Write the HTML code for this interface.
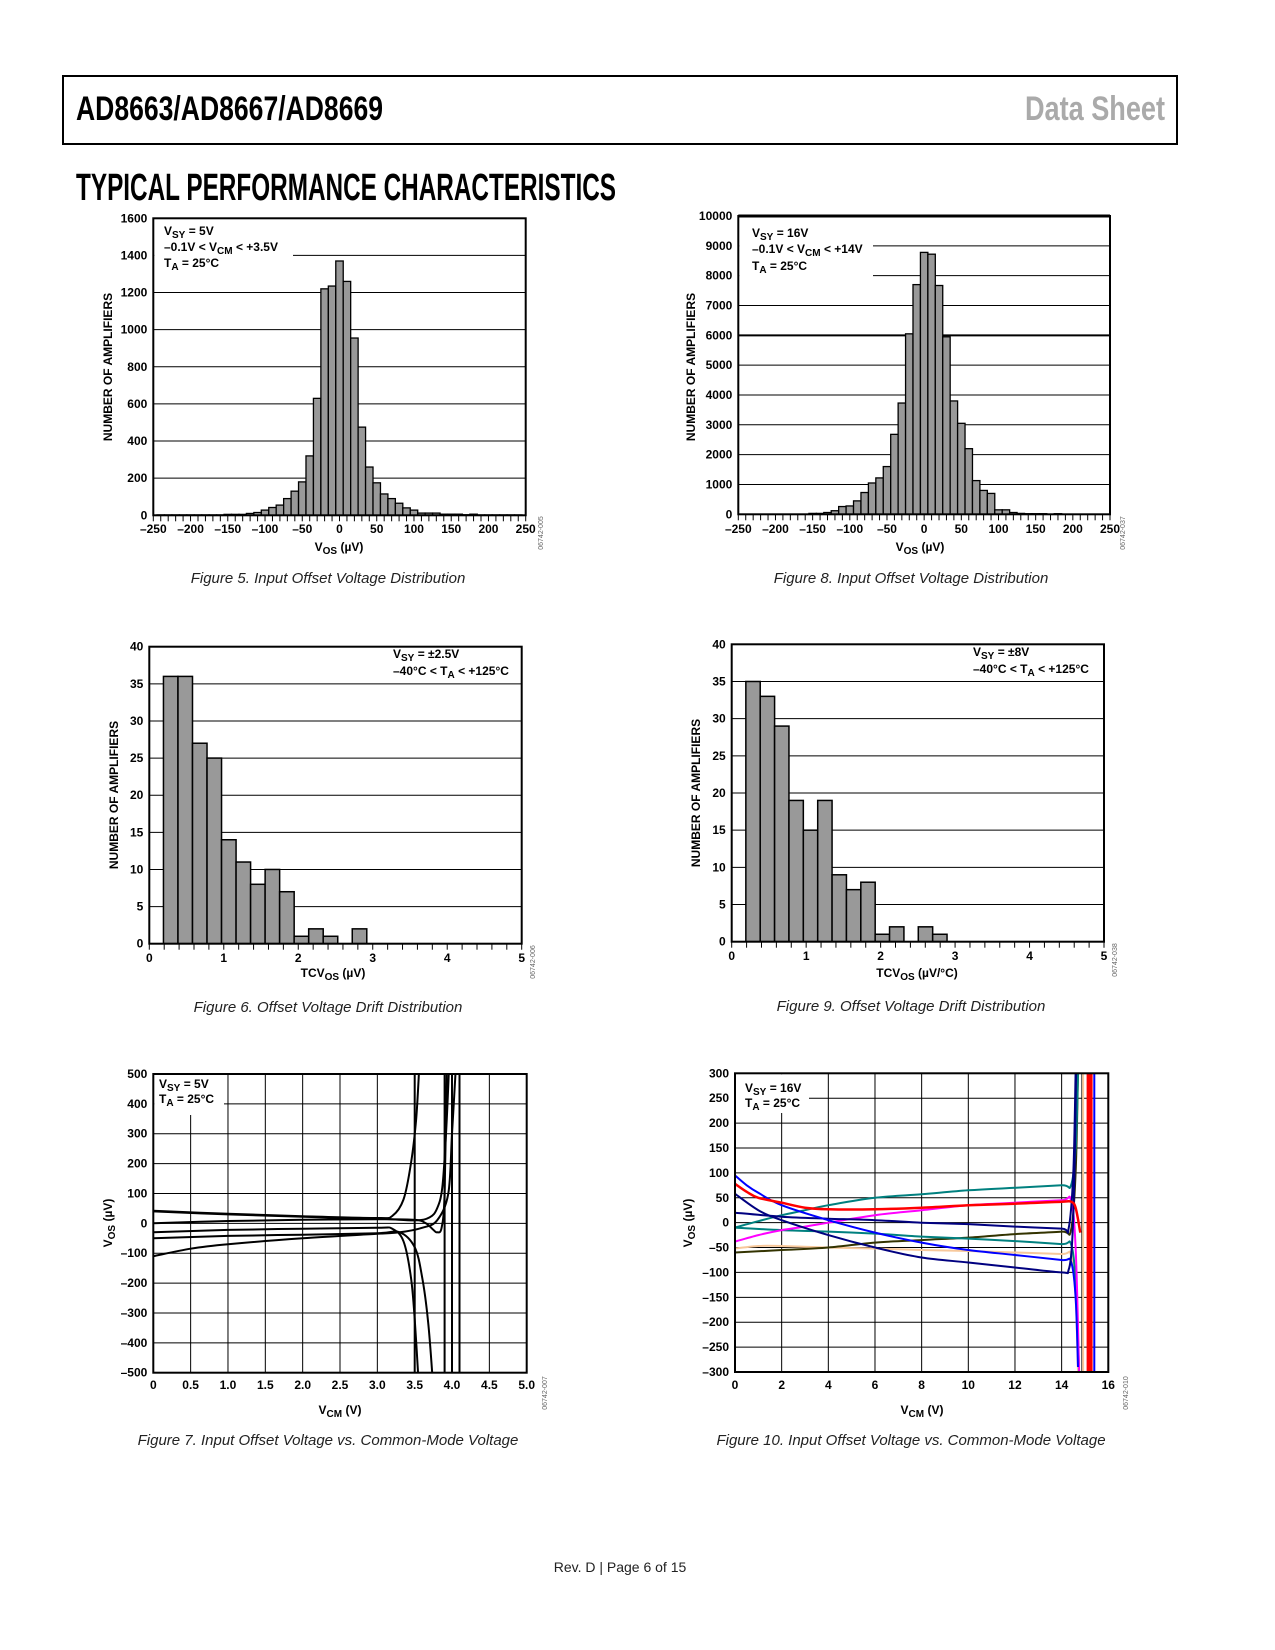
<!DOCTYPE html>
<html><head><meta charset="utf-8">
<style>
html,body{margin:0;padding:0;background:#fff;}
svg{display:block;font-family:"Liberation Sans",sans-serif;}
.tk{font-size:12px;font-weight:bold;fill:#000;}
.ttl{font-size:12px;font-weight:bold;fill:#000;}
.ann{font-size:12px;font-weight:bold;fill:#000;}
.cap{font-size:15px;font-style:italic;fill:#222;}
.id{font-size:7px;fill:#666;}
</style></head>
<body>
<svg id="page" width="1275" height="1650" viewBox="0 0 1275 1650">
<rect x="0" y="0" width="1275" height="1650" fill="#fff"/>
<rect x="63" y="76" width="1114" height="68" fill="none" stroke="#000" stroke-width="2"/>
<text x="76" y="120" font-size="34" font-weight="bold" textLength="307" lengthAdjust="spacingAndGlyphs" font-family="'Liberation Sans Narrow','Liberation Sans',sans-serif">AD8663/AD8667/AD8669</text>
<text x="1165" y="120" font-size="34" font-weight="bold" fill="#aaa" text-anchor="end" textLength="140" lengthAdjust="spacingAndGlyphs" font-family="'Liberation Sans Narrow','Liberation Sans',sans-serif">Data Sheet</text>
<text x="76" y="200" font-size="38" font-weight="bold" textLength="540" lengthAdjust="spacingAndGlyphs" font-family="'Liberation Sans Narrow','Liberation Sans',sans-serif">TYPICAL PERFORMANCE CHARACTERISTICS</text>

<text class="cap" x="328" y="583" text-anchor="middle">Figure 5. Input Offset Voltage Distribution</text>
<text class="cap" x="911" y="583" text-anchor="middle">Figure 8. Input Offset Voltage Distribution</text>
<text class="cap" x="328" y="1012" text-anchor="middle">Figure 6. Offset Voltage Drift Distribution</text>
<text class="cap" x="911" y="1011" text-anchor="middle">Figure 9. Offset Voltage Drift Distribution</text>
<text class="cap" x="328" y="1445" text-anchor="middle">Figure 7. Input Offset Voltage vs. Common-Mode Voltage</text>
<text class="cap" x="911" y="1445" text-anchor="middle">Figure 10. Input Offset Voltage vs. Common-Mode Voltage</text>
<text x="620" y="1572" font-size="14" text-anchor="middle" fill="#222">Rev. D | Page 6 of 15</text>
<g id="charts"></g>
</svg>
<script>
// ---------- Figure 5 data ----------
const f5Centers = [-240,-230,-220,-210,-200,-190,-180,-170,-160,-150,-140,-130,-120,-110,-100,-90,-80,-70,-60,-50,-40,-30,-20,-10,0,10,20,30,40,50,60,70,80,90,100,110,120,130,140,150,160,170,180,190,200,210,220,230,240];
const f5Counts = [2,2,2,2,2,2,2,2,2,5,5,5,10,15,28,42,55,90,130,180,320,630,1220,1235,1370,1260,955,475,260,175,115,90,65,40,28,12,12,12,6,6,6,3,6,2,2,2,2,2,2];
const f5YTicks = [0,200,400,600,800,1000,1200,1400,1600];
const f5XTicks = [-250,-200,-150,-100,-50,0,50,100,150,200,250];
// ---------- Figure 8 data ----------
const f8Centers = [-240,-230,-220,-210,-200,-190,-180,-170,-160,-150,-140,-130,-120,-110,-100,-90,-80,-70,-60,-50,-40,-30,-20,-10,0,10,20,30,40,50,60,70,80,90,100,110,120,130,140,150,160,170,180,190,200,210,220,230,240];
const f8Counts = [0,0,0,0,0,0,0,0,0,30,30,60,120,260,280,450,730,1050,1220,1600,2680,3730,6050,7700,8780,8720,7670,5950,3800,3050,2200,1130,800,700,150,150,60,30,20,20,20,5,20,0,0,0,0,0,0];
const f8YTicks = [0,1000,2000,3000,4000,5000,6000,7000,8000,9000,10000];
const f8XTicks = [-250,-200,-150,-100,-50,0,50,100,150,200,250];
// ---------- Figure 6 data ----------
const f6BinStart = [0.19,0.385,0.58,0.775,0.97,1.165,1.36,1.555,1.75,1.945,2.14,2.335,2.53,2.725];
const f6Counts = [36,36,27,25,14,11,8,10,7,1,2,1,0,2];
const f6YTicks = [0,5,10,15,20,25,30,35,40];
const f6XTicks = [0,1,2,3,4,5];
// ---------- Figure 9 data ----------
const f9BinStart = [0.19,0.383,0.576,0.769,0.962,1.155,1.348,1.541,1.734,1.927,2.12,2.313,2.506,2.699];
const f9Counts = [35,33,29,19,15,19,9,7,8,1,2,0,2,1];
const f9YTicks = [0,5,10,15,20,25,30,35,40];
const f9XTicks = [0,1,2,3,4,5];
// ---------- Figure 7 data ----------
const f7XTicks = [0,0.5,1.0,1.5,2.0,2.5,3.0,3.5,4.0,4.5,5.0];
const f7YTicks = [-500,-400,-300,-200,-100,0,100,200,300,400,500];
const f7A_x = [0,1,2,3.0,3.2,3.35,3.45,3.52,3.56];
const f7A_y = [42,32,24,18,25,80,200,350,520];
const f7B_x = [0,1,2,3,3.5,3.7,3.8,3.87,3.92,3.96];
const f7B_y = [40,30,22,16,10,20,50,120,300,520];
const f7C_x = [0,1,2,3,3.5,3.65,3.75,3.8,3.86,3.9,3.93];
const f7C_y = [0,8,12,14,12,0,-22,-30,-15,100,520];
const f7D_x = [0,1,2,3,3.2,3.35,3.45,3.5,3.55];
const f7D_y = [-30,-22,-18,-15,-18,-60,-180,-320,-520];
const f7E_x = [0,1,2,3,3.3,3.5,3.6,3.68,3.74];
const f7E_y = [-50,-42,-38,-33,-30,-80,-180,-330,-520];
const f7F_x = [0,0.5,1,2,3,3.3,3.6,3.8,3.95,4.0,4.05];
const f7F_y = [-110,-85,-70,-50,-35,-30,-15,10,100,300,520];
const f7V1_x = [3.5,3.5]; const f7V1_y = [-500,500];
const f7V2_x = [3.9,3.9]; const f7V2_y = [-500,500];
const f7V3_x = [4.0,4.0]; const f7V3_y = [-500,500];
const f7V4_x = [4.1,4.1]; const f7V4_y = [-500,500];
// ---------- Figure 10 data ----------
const f10XTicks = [0,2,4,6,8,10,12,14,16];
const f10YTicks = [-300,-250,-200,-150,-100,-50,0,50,100,150,200,250,300];
const f10Teal1_x = [0,1,2,3,4,6,8,10,12,14,14.4,14.6,14.7];
const f10Teal1_y = [-10,3,15,25,35,50,57,65,70,75,75,150,300];
const f10Teal2_x = [0,2,4,6,8,10,12,14,14.4,14.6,14.75];
const f10Teal2_y = [-10,-15,-18,-22,-28,-32,-37,-43,-43,-120,-300];
const f10Magenta_x = [0,1,2,3,4,6,8,10,12,14,14.4,14.6,14.75];
const f10Magenta_y = [-38,-25,-15,-8,0,15,25,35,40,45,45,-50,-300];
const f10Red_x = [0,0.5,1,2,3,4,6,8,10,12,14,14.4,14.6,14.8];
const f10Red_y = [78,62,50,40,30,27,27,30,35,38,42,42,30,-20];
const f10Blue_x = [0,0.5,1,2,4,6,8,10,12,14,14.4,14.6,14.7];
const f10Blue_y = [95,75,60,35,5,-20,-40,-55,-65,-75,-78,-150,-290];
const f10Navy1_x = [0,2,4,6,8,10,12,14,14.3,14.5,14.6];
const f10Navy1_y = [20,12,8,5,0,-3,-8,-12,-12,100,300];
const f10Navy2_x = [0,1,2,4,6,8,10,12,14,14.3,14.45,14.55,14.62];
const f10Navy2_y = [58,25,5,-25,-50,-70,-80,-90,-100,-95,-40,100,300];
const f10Olive_x = [0,2,4,6,8,10,12,14,14.4,14.6,14.7];
const f10Olive_y = [-60,-55,-50,-40,-35,-30,-23,-18,-15,100,300];
const f10Peach_x = [0,1,2,4,6,8,10,12,14,14.4,14.6,14.7];
const f10Peach_y = [-52,-47,-47,-50,-52,-55,-57,-60,-63,-65,-150,-300];
const f10VRed_x = [15.2,15.2]; const f10VRed_y = [-300,300];
const f10VBlue_x = [15.4,15.4]; const f10VBlue_y = [-300,300];
const f10VPeach_x = [14.92,14.92]; const f10VPeach_y = [-300,300];
const f10VBlack_x = [14.87,14.87]; const f10VBlack_y = [-300,300];

const NS = 'http://www.w3.org/2000/svg';
const root = document.getElementById('charts');
function mk(tag, attrs, parent){ const e=document.createElementNS(NS,tag); for(const k in attrs) e.setAttribute(k,attrs[k]); (parent||root).appendChild(e); return e; }
function fmt(v){ return (v<0?'\u2013':'')+Math.abs(v); }
function fmtF(v){ return v===0 ? '0' : (v<0?'\u2013':'')+Math.abs(v).toFixed(1); }

function makeAxes(P){
  P.sx = v => P.l + (v-P.x0)/(P.x1-P.x0)*(P.r-P.l);
  P.sy = v => P.b - (v-P.y0)/(P.y1-P.y0)*(P.b-P.t);
  return P;
}
function frame(P, g){
  const r = mk('rect',{x:P.l,y:P.t,width:P.r-P.l,height:P.b-P.t,fill:'none',stroke:'#000','stroke-width':2},g);
  
  
}
function yTickLabels(P, ticks, g, f){
  ticks.forEach(v=>{
    const t = mk('text',{x:P.l-6,y:P.sy(v)+4,'text-anchor':'end',class:'tk'},g);
    t.textContent = (f||fmt)(v);
    
    
  });
}
function xTickLabels(P, ticks, g, y, f){
  ticks.forEach(v=>{
    const t = mk('text',{x:P.sx(v),y:y,'text-anchor':'middle',class:'tk'},g);
    t.textContent = (f||fmt)(v);
    
    
  });
}
function hGrid(P, ticks, g){
  ticks.forEach(v=>{
    const ln = mk('line',{x1:P.l,x2:P.r,y1:P.sy(v),y2:P.sy(v),stroke:'#000','stroke-width':1},g);
    
    
  });
}
function vGrid(P, ticks, g){
  ticks.forEach(v=>{
    const ln = mk('line',{x1:P.sx(v),x2:P.sx(v),y1:P.t,y2:P.b,stroke:'#000','stroke-width':1},g);
    
    
  });
}
function minorTicks(P, start, end, step, g){
  for(let v=start; v<=end+1e-9; v+=step){
    const ln = mk('line',{x1:P.sx(v),x2:P.sx(v),y1:P.b,y2:P.b+6,stroke:'#000','stroke-width':1},g);
    
    
  }
}
function yTitle(x, y, g, name, parts){
  const t = mk('text',{x:x,y:y,'text-anchor':'middle',class:'ttl',transform:'rotate(-90 '+x+' '+y+')'},g);
  
  
  addParts(t, parts);
}
function xTitle(x, y, g, name, parts){
  const t = mk('text',{x:x,y:y,'text-anchor':'middle',class:'ttl'},g);
  
  
  addParts(t, parts);
}
function addParts(t, parts){
  parts.forEach(p=>{
    const s = mk('tspan',{},t);
    if(p[1]==='sub'){ s.setAttribute('font-size','10'); s.setAttribute('dy','3'); }
    else if(p[1]==='back'){ s.setAttribute('dy','-3'); }
    s.textContent = p[0];
  });
}
function annLine(x, y, g, name, parts){
  const t = mk('text',{x:x,y:y,class:'ann'},g);
  
  
  addParts(t, parts);
}
function figId(x, y, g, name, txt){
  const t = mk('text',{x:x,y:y,'text-anchor':'middle',class:'id',transform:'rotate(-90 '+x+' '+y+')'},g);
  
  
  t.textContent = txt;
}
function clip(P, g){
  const id='clip-'+P.name;
  const d = mk('clipPath',{id:id},g);
  mk('rect',{x:P.l,y:P.t,width:P.r-P.l,height:P.b-P.t},d);
  return 'url(#'+id+')';
}
function histCentered(P, centers, counts, width, g){
  const cg = mk('g',{'clip-path':clip(P,g)},g);
  centers.forEach((c,i)=>{
    const x0=P.sx(c-width/2), x1=P.sx(c+width/2), y=P.sy(counts[i]);
    const b = mk('rect',{x:x0,y:y,width:x1-x0,height:P.b-y,fill:'#999',stroke:'#000','stroke-width':1.3},cg);
    
    
  });
}
function histStart(P, starts, counts, width, g){
  starts.forEach((s,i)=>{
    const x0=P.sx(s), x1=P.sx(s+width), y=P.sy(counts[i]);
    const b = mk('rect',{x:x0,y:y,width:x1-x0,height:P.b-y,fill:'#999',stroke:'#000','stroke-width':1.5},g);
    
    
  });
}
function curve(P, xs, ys, color, w, g, cp, name){
  const pts = xs.map((x,i)=>[P.sx(x), P.sy(ys[i])]);
  let d = 'M'+pts[0][0].toFixed(1)+' '+pts[0][1].toFixed(1);
  for(let i=0;i<pts.length-1;i++){
    const p0=pts[Math.max(0,i-1)], p1=pts[i], p2=pts[i+1], p3=pts[Math.min(pts.length-1,i+2)];
    const c1=[p1[0]+(p2[0]-p0[0])/6, p1[1]+(p2[1]-p0[1])/6];
    const c2=[p2[0]-(p3[0]-p1[0])/6, p2[1]-(p3[1]-p1[1])/6];
    d += 'C'+c1[0].toFixed(1)+' '+c1[1].toFixed(1)+' '+c2[0].toFixed(1)+' '+c2[1].toFixed(1)+' '+p2[0].toFixed(1)+' '+p2[1].toFixed(1);
  }
  const p = mk('path',{d:d,fill:'none',stroke:color,'stroke-width':w,'stroke-linejoin':'round','clip-path':cp},g);
  
  
}

// ===== Figure 5 =====
(function(){
  const g = mk('g',{});  
  const P = makeAxes({name:'fig5',l:153.3,r:525.7,t:218.3,b:515.3,x0:-250,x1:250,y0:0,y1:1600});
  hGrid(P, f5YTicks, g);
  histCentered(P, f5Centers, f5Counts, 10, g);
  const box = mk('rect',{x:P.l+1,y:P.t+1,width:292-P.l,height:272-P.t,fill:'#fff'},g);
   
  frame(P,g); minorTicks(P,-250,250,10,g);
  yTickLabels(P,f5YTicks,g); xTickLabels(P,f5XTicks,g,533);
  yTitle(112,367,g,'fig5-y-axis-title',[['NUMBER OF AMPLIFIERS','n']]);
  xTitle(339,551,g,'fig5-x-axis-title',[['V','n'],['OS','sub'],[' (\u00b5V)','back']]);
  annLine(164,235,g,'fig5-annotation-vsy',[['V','n'],['SY','sub'],[' = 5V','back']]);
  annLine(164,251,g,'fig5-annotation-vcm',[['\u20130.1V < V','n'],['CM','sub'],[' < +3.5V','back']]);
  annLine(164,267,g,'fig5-annotation-ta',[['T','n'],['A','sub'],[' = 25\u00b0C','back']]);
  figId(543,533,g,'fig5-id','06742-005');
})();
// ===== Figure 8 =====
(function(){
  const g = mk('g',{});  
  const P = makeAxes({name:'fig8',l:738.3,r:1110,t:216,b:514.3,x0:-250,x1:250,y0:0,y1:10000});
  hGrid(P, f8YTicks, g);
  const thick = mk('line',{x1:P.l,x2:P.r,y1:P.sy(6000),y2:P.sy(6000),stroke:'#000','stroke-width':2},g);
   
  histCentered(P, f8Centers, f8Counts, 10, g);
  const box = mk('rect',{x:P.l+1,y:P.t+2,width:872-P.l,height:277-P.t,fill:'#fff'},g);
   
  frame(P,g);
  const top = mk('line',{x1:P.l,x2:P.r,y1:P.t,y2:P.t,stroke:'#000','stroke-width':3},g);
   
  minorTicks(P,-250,250,10,g);
  yTickLabels(P,f8YTicks,g); xTickLabels(P,f8XTicks,g,533);
  yTitle(695,367,g,'fig8-y-axis-title',[['NUMBER OF AMPLIFIERS','n']]);
  xTitle(920,551,g,'fig8-x-axis-title',[['V','n'],['OS','sub'],[' (\u00b5V)','back']]);
  annLine(752,237,g,'fig8-annotation-vsy',[['V','n'],['SY','sub'],[' = 16V','back']]);
  annLine(752,253,g,'fig8-annotation-vcm',[['\u20130.1V < V','n'],['CM','sub'],[' < +14V','back']]);
  annLine(752,270,g,'fig8-annotation-ta',[['T','n'],['A','sub'],[' = 25\u00b0C','back']]);
  figId(1125,533,g,'fig8-id','06742-037');
})();
// ===== Figure 6 =====
(function(){
  const g = mk('g',{});  
  const P = makeAxes({name:'fig6',l:149.3,r:521.7,t:646.7,b:943.7,x0:0,x1:5,y0:0,y1:40});
  hGrid(P, f6YTicks, g);
  histStart(P, f6BinStart, f6Counts, 0.195, g);
  frame(P,g); minorTicks(P,0,5,0.2,g);
  yTickLabels(P,f6YTicks,g); xTickLabels(P,f6XTicks,g,962);
  yTitle(118,795,g,'fig6-y-axis-title',[['NUMBER OF AMPLIFIERS','n']]);
  xTitle(333,977,g,'fig6-x-axis-title',[['TCV','n'],['OS','sub'],[' (\u00b5V)','back']]);
  annLine(393,658,g,'fig6-annotation-vsy',[['V','n'],['SY','sub'],[' = \u00b12.5V','back']]);
  annLine(393,675,g,'fig6-annotation-ta',[['\u201340\u00b0C < T','n'],['A','sub'],[' < +125\u00b0C','back']]);
  figId(535,962,g,'fig6-id','06742-006');
})();
// ===== Figure 9 =====
(function(){
  const g = mk('g',{});  
  const P = makeAxes({name:'fig9',l:731.7,r:1104,t:644.3,b:941.7,x0:0,x1:5,y0:0,y1:40});
  hGrid(P, f9YTicks, g);
  histStart(P, f9BinStart, f9Counts, 0.193, g);
  frame(P,g); minorTicks(P,0,5,0.2,g);
  yTickLabels(P,f9YTicks,g); xTickLabels(P,f9XTicks,g,960);
  yTitle(700,793,g,'fig9-y-axis-title',[['NUMBER OF AMPLIFIERS','n']]);
  xTitle(917,977,g,'fig9-x-axis-title',[['TCV','n'],['OS','sub'],[' (\u00b5V/\u00b0C)','back']]);
  annLine(973,656,g,'fig9-annotation-vsy',[['V','n'],['SY','sub'],[' = \u00b18V','back']]);
  annLine(973,673,g,'fig9-annotation-ta',[['\u201340\u00b0C < T','n'],['A','sub'],[' < +125\u00b0C','back']]);
  figId(1117,960,g,'fig9-id','06742-038');
})();
// ===== Figure 7 =====
(function(){
  const g = mk('g',{});  
  const P = makeAxes({name:'fig7',l:153.3,r:526.7,t:1074,b:1372.7,x0:0,x1:5,y0:-500,y1:500});
  hGrid(P, f7YTicks, g); vGrid(P, f7XTicks, g);
  const box = mk('rect',{x:P.l+1,y:P.t+1,width:223-P.l,height:1114-P.t,fill:'#fff'},g);
   
  const cp = clip(P,g);
  const series = [[f7A_x,f7A_y],[f7B_x,f7B_y],[f7C_x,f7C_y],[f7D_x,f7D_y],[f7E_x,f7E_y],[f7F_x,f7F_y]];
  series.forEach((s,i)=>curve(P,s[0],s[1],'#000',2,g,cp,'fig7-curve-'+(i+1)));
  [[f7V1_x,f7V1_y],[f7V2_x,f7V2_y],[f7V3_x,f7V3_y],[f7V4_x,f7V4_y]].forEach((s,i)=>curve(P,s[0],s[1],'#000',2,g,cp,'fig7-vertical-trace-'+(i+1)));
  frame(P,g);
  yTickLabels(P,f7YTicks,g); xTickLabels(P,f7XTicks,g,1389,fmtF);
  yTitle(112,1223,g,'fig7-y-axis-title',[['V','n'],['OS','sub'],[' (\u00b5V)','back']]);
  xTitle(340,1414,g,'fig7-x-axis-title',[['V','n'],['CM','sub'],[' (V)','back']]);
  annLine(159,1088,g,'fig7-annotation-vsy',[['V','n'],['SY','sub'],[' = 5V','back']]);
  annLine(159,1103,g,'fig7-annotation-ta',[['T','n'],['A','sub'],[' = 25\u00b0C','back']]);
  figId(547,1393,g,'fig7-id','06742-007');
})();
// ===== Figure 10 =====
(function(){
  const g = mk('g',{});  
  const P = makeAxes({name:'fig10',l:735,r:1108.3,t:1073.3,b:1372,x0:0,x1:16,y0:-300,y1:300});
  hGrid(P, f10YTicks, g); vGrid(P, f10XTicks, g);
  const box = mk('rect',{x:P.l+1,y:P.t+1,width:808-P.l,height:1112-P.t,fill:'#fff'},g);
   
  const cp = clip(P,g);
  curve(P,f10VBlack_x,f10VBlack_y,'#000',1,g,cp,'fig10-vertical-black');
  curve(P,f10VPeach_x,f10VPeach_y,'#f7c89b',2,g,cp,'fig10-vertical-peach');
  curve(P,f10VRed_x,f10VRed_y,'#ff0000',6,g,cp,'fig10-vertical-red');
  curve(P,f10VBlue_x,f10VBlue_y,'#0000ff',2,g,cp,'fig10-vertical-blue');
  curve(P,f10Peach_x,f10Peach_y,'#f7c89b',2,g,cp,'fig10-peach-trace');
  curve(P,f10Olive_x,f10Olive_y,'#333300',2,g,cp,'fig10-olive-trace');
  curve(P,f10Teal2_x,f10Teal2_y,'#00807f',2,g,cp,'fig10-teal-trace-2');
  curve(P,f10Teal1_x,f10Teal1_y,'#00807f',2,g,cp,'fig10-teal-trace-1');
  curve(P,f10Magenta_x,f10Magenta_y,'#ff00ff',2,g,cp,'fig10-magenta-trace');
  curve(P,f10Navy1_x,f10Navy1_y,'#000080',2,g,cp,'fig10-navy-trace-1');
  curve(P,f10Blue_x,f10Blue_y,'#0000ff',2,g,cp,'fig10-blue-trace');
  curve(P,f10Navy2_x,f10Navy2_y,'#000080',2,g,cp,'fig10-navy-trace-2');
  curve(P,f10Red_x,f10Red_y,'#ff0000',2.5,g,cp,'fig10-red-trace');
  frame(P,g);
  yTickLabels(P,f10YTicks,g); xTickLabels(P,f10XTicks,g,1389);
  yTitle(692,1223,g,'fig10-y-axis-title',[['V','n'],['OS','sub'],[' (\u00b5V)','back']]);
  xTitle(922,1414,g,'fig10-x-axis-title',[['V','n'],['CM','sub'],[' (V)','back']]);
  annLine(745,1092,g,'fig10-annotation-vsy',[['V','n'],['SY','sub'],[' = 16V','back']]);
  annLine(745,1107,g,'fig10-annotation-ta',[['T','n'],['A','sub'],[' = 25\u00b0C','back']]);
  figId(1128,1393,g,'fig10-id','06742-010');
})();
</script>
</body></html>
